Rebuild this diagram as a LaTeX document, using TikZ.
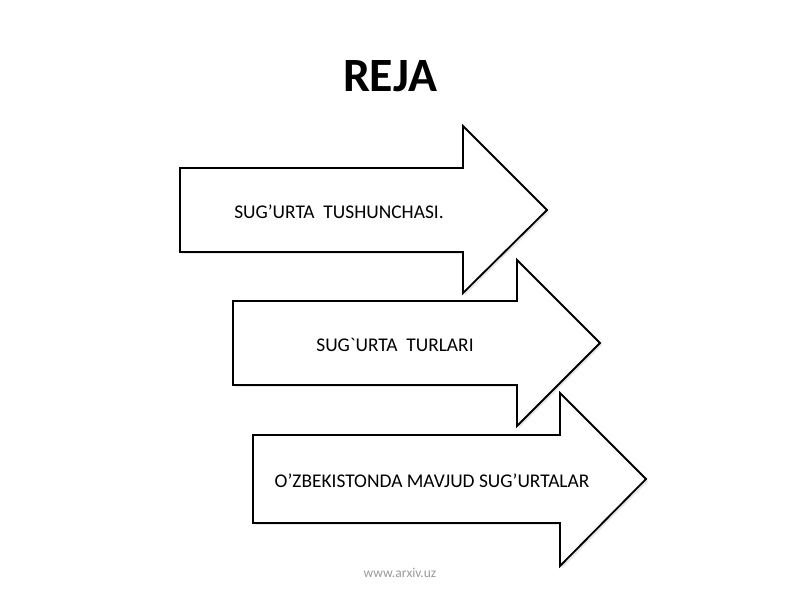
\documentclass[tikz,border=0pt]{standalone}
\usepackage{fontspec}
\setmainfont{Carlito}
\usetikzlibrary{shadows}

\tikzset{
  bigarrow/.style={draw=black,fill=white,line width=1.3pt,line join=miter,
    drop shadow={shadow xshift=1.5pt,shadow yshift=-1.5pt,opacity=0.18,fill=black!50}},
  itemtext/.style={font=\fontsize{13.8}{16}\selectfont},
  titletext/.style={font=\fontsize{34}{40}\selectfont\bfseries}
}

\begin{document}
\begin{tikzpicture}[x=0.025cm,y=-0.025cm]
      \useasboundingbox[fill=white] (0,0) rectangle (800,600);
      %% Title
      \node[titletext] (title) at (390,76) {REJA};
      %% Arrows
      \draw[bigarrow] (180,168) -- (463,168) -- (463,126) -- (547,210) -- (463,293) -- (463,252) -- (180,252) -- cycle;
      \draw[bigarrow] (233,301) -- (517,301) -- (517,260) -- (600,343) -- (517,426) -- (517,385) -- (233,385) -- cycle;
      \draw[bigarrow] (253,435) -- (560,435) -- (560,393) -- (646,479) -- (560,566) -- (560,523) -- (253,523) -- cycle;
      %% Texts
      \node[itemtext] (sug) at (339,212) {SUG’URTA~~TUSHUNCHASI.};
      \node[itemtext] (tur) at (395,345) {SUG\textasciigrave URTA~~TURLARI};
      \node[itemtext] (uzb) at (432,481) {O’ZBEKISTONDA MAVJUD SUG’URTALAR};
      %% Footer
      \node[font=\fontsize{9.6}{11}\selectfont,text=black!40] (www) at (400,573) {www.arxiv.uz};
\end{tikzpicture}
\end{document}
